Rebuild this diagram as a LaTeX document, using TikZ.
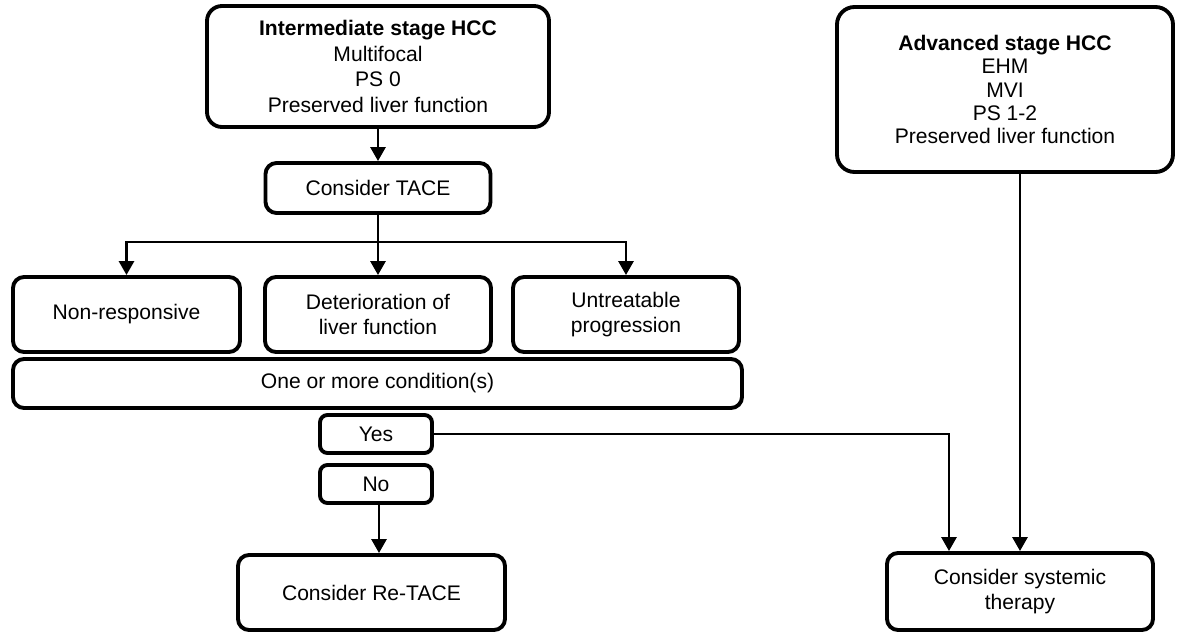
\documentclass[tikz,border=0pt]{standalone}
\usepackage{fontspec}
\setmainfont{Liberation Sans}
\usetikzlibrary{arrows.meta}
\begin{document}
\begin{tikzpicture}[
    box/.style={draw, line width=2.2pt, rounded corners=0.22cm, align=center, inner sep=2pt, font=\fontsize{12}{14.5}\selectfont},
    arrow/.style={-{Triangle[width=0.3cm, length=0.28cm]}, line width=1.6pt},
    link/.style={line width=1.6pt}
]
\useasboundingbox (0,0) rectangle (23.54,-12.68);

% Intermediate stage - left column
\node[box, minimum width=6.84cm, minimum height=2.42cm, rounded corners=0.3cm] (inter) at (7.56,-1.33)
    {\textbf{Intermediate stage HCC}\\Multifocal\\PS 0\\Preserved liver function};
\node[box, minimum width=4.5cm, minimum height=1.0cm] (tace) at (7.56,-3.76) {Consider TACE};

% Three possible outcomes after TACE
\node[box, minimum width=4.54cm, minimum height=1.5cm] (nonresp) at (2.53,-6.29) {Non-responsive};
\node[box, minimum width=4.52cm, minimum height=1.5cm] (deter) at (7.56,-6.29) {Deterioration of\\liver function};
\node[box, minimum width=4.52cm, minimum height=1.5cm] (untreat) at (12.52,-6.29) {Untreatable\\progression};
\node[box, minimum width=14.58cm, minimum height=0.98cm] (cond) at (7.55,-7.67) {One or more condition(s)};

% Decision
\node[box, minimum width=2.24cm, minimum height=0.76cm, rounded corners=0.15cm] (yes) at (7.52,-8.68) {Yes};
\node[box, minimum width=2.24cm, minimum height=0.76cm, rounded corners=0.15cm] (no) at (7.52,-9.68) {No};
\node[box, minimum width=5.34cm, minimum height=1.5cm] (retace) at (7.43,-11.85) {Consider Re-TACE};

% Advanced stage - right column
\node[box, minimum width=6.72cm, minimum height=3.3cm, rounded corners=0.35cm, font=\fontsize{12}{13.2}\selectfont] (adv) at (20.1,-1.79)
    {\textbf{Advanced stage HCC}\\EHM\\MVI\\PS 1-2\\Preserved liver function};
\node[box, minimum width=5.32cm, minimum height=1.54cm] (systemic) at (20.4,-11.83) {Consider systemic\\therapy};

% Connectors
\coordinate (fork) at (7.56,-4.84);
\draw[arrow] (inter.south) -- (tace.north);
\draw[link] (tace.south) -- (fork);
\draw[arrow] (fork) -- (deter.north);
\draw[arrow] (fork) -| (nonresp.north);
\draw[arrow] (fork) -| (untreat.north);
\draw[arrow] (no.south -| 7.58,0) -- (retace.north -| 7.58,0);
\draw[arrow] (yes.east) -| ([xshift=-1.42cm]systemic.north);
\draw[arrow] (adv.south -| systemic.north) -- (systemic.north);

\end{tikzpicture}
\end{document}
